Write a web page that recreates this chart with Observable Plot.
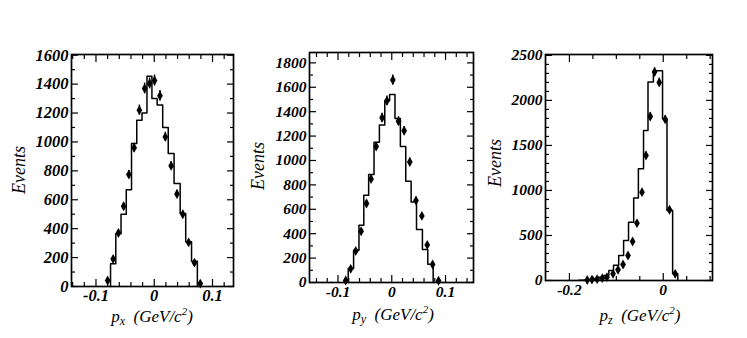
<!DOCTYPE html>
<html><head><meta charset="utf-8">
<script src="https://cdn.jsdelivr.net/npm/d3@7"></script>
<script src="https://cdn.jsdelivr.net/npm/@observablehq/plot@0.6"></script>
<style>
body{margin:0;background:#fff;}
#wrap{position:relative;width:747px;height:338px;overflow:hidden;background:#fff;font-family:"Liberation Serif","DejaVu Serif",serif;color:#000;}
.p{position:absolute;}
.ytitle{position:absolute;font-style:italic;font-size:18px;line-height:18px;transform:translate(-50%,-50%) rotate(-90deg);white-space:nowrap;}
.xtitle{position:absolute;font-style:italic;font-size:17px;line-height:17px;transform:translateX(-50%);white-space:nowrap;}
.xtitle sub{font-size:12px;vertical-align:-3px;}
.xtitle sup{font-size:11px;vertical-align:7px;}
</style></head><body><div id="wrap"></div>
<script>
// ---------- Panel 1: p_x ----------
const pxEdges  = [-0.075,-0.066,-0.057,-0.048,-0.039,-0.030,-0.021,-0.0125,-0.004,0.005,0.0145,0.024,0.034,0.0445,0.054,0.064,0.074];
const pxLevels = [157,365,500,669,990,1150,1200,1455,1300,1255,1100,920,712,505,310,175];
const pxPointX = [-0.080,-0.0705,-0.0615,-0.0525,-0.0435,-0.0345,-0.0255,-0.0165,-0.008,0.0005,0.0098,0.019,0.029,0.039,0.049,0.059,0.069,0.079];
const pxPointY = [42,190,370,555,775,960,1220,1370,1405,1425,1320,1035,835,640,500,305,165,20];
const pxXMajor = [-0.1,0,0.1];
const pxXMinor = [-0.14,-0.12,-0.08,-0.06,-0.04,-0.02,0.02,0.04,0.06,0.08,0.12];
const pxYMajor = [0,200,400,600,800,1000,1200,1400,1600];
const pxYMinor = [100,300,500,700,900,1100,1300,1500];

// ---------- Panel 2: p_y ----------
const pyEdges  = [-0.081,-0.071,-0.061,-0.052,-0.043,-0.033,-0.023,-0.013,-0.004,0.006,0.016,0.026,0.036,0.046,0.057,0.067,0.077];
const pyLevels = [115,265,470,715,885,1150,1290,1490,1540,1345,1115,830,660,435,270,150];
const pyPointX = [-0.0857,-0.0764,-0.067,-0.057,-0.047,-0.0385,-0.029,-0.018,-0.009,0.002,0.0125,0.023,0.0335,0.045,0.056,0.066,0.076,0.087];
const pyPointY = [16,112,258,420,648,848,1115,1350,1489,1660,1322,1244,988,672,546,308,147,14];
const pyXMajor = [-0.1,0,0.1];
const pyXMinor = [-0.14,-0.12,-0.08,-0.06,-0.04,-0.02,0.02,0.04,0.06,0.08,0.12,0.14];
const pyYMajor = [0,200,400,600,800,1000,1200,1400,1600,1800];
const pyYMinor = [100,300,500,700,900,1100,1300,1500,1700];

// ---------- Panel 3: p_z ----------
const pzEdges  = [-0.180,-0.169,-0.159,-0.148,-0.138,-0.127,-0.116,-0.106,-0.095,-0.0845,-0.074,-0.063,-0.053,-0.042,-0.0325,-0.021,-0.011,-0.0015,0.008,0.020,0.031];
const pzLevels = [3,6,12,22,35,55,111,170,278,444,648,915,1241,1667,2204,2330,2330,1796,778,74];
const pzPointX = [-0.162,-0.152,-0.141,-0.130,-0.120,-0.107,-0.0964,-0.0857,-0.0751,-0.0653,-0.056,-0.0453,-0.0368,-0.0277,-0.0185,-0.0085,0.0043,0.0134,0.0255];
const pzPointY = [5,10,15,26,37,74,119,178,278,433,637,981,1389,1822,2315,2200,1789,786,74];
const pzXMajor = [-0.2,0];
const pzXMinor = [-0.15,-0.1,-0.05,0.05,0.1];
const pzYMajor = [0,500,1000,1500,2000,2500];
const pzYMinor = [100,200,300,400,600,700,800,900,1100,1200,1300,1400,1600,1700,1800,1900,2100,2200,2300,2400];

const yTitle = "Events";
const unitText = "(GeV/<i>c</i><sup>2</sup>)";

function panel(o) {
  const line = [{x: o.edges[0], y: 0}];
  o.levels.forEach((h, i) => line.push({x: o.edges[i], y: h}));
  line.push({x: o.edges[o.edges.length - 1], y: 0});
  const pts = o.px.map((x, i) => ({x, y: o.py[i], e: Math.sqrt(o.py[i])}));
  const none = () => "";
  const font = "'Liberation Serif', 'DejaVu Serif', serif";
  const svg = Plot.plot({
    width: o.width, height: o.height,
    marginLeft: o.mL, marginRight: o.mR, marginTop: o.mT, marginBottom: o.mB,
    x: {domain: o.xDomain}, y: {domain: o.yDomain},
    style: {background: "transparent", color: "black", overflow: "visible", fontFamily: font, fontSize: o.fs + "px", fontWeight: "bold", fontStyle: "italic"},
    marks: [
      Plot.axisX({anchor: "bottom", ticks: o.xMajor, tickSize: 0, tickPadding: 3, tickFormat: d => String(d), label: null}),
      Plot.axisY({anchor: "left", ticks: o.yMajor, tickSize: 0, tickPadding: 3, tickFormat: d => String(d), label: null}),
      Plot.axisX({anchor: "bottom", ticks: o.xMajor, tickSize: -7, tickFormat: none, label: null, strokeWidth: 1.2}),
      Plot.axisX({anchor: "top", ticks: o.xMajor, tickSize: -7, tickFormat: none, label: null, strokeWidth: 1.2}),
      Plot.axisX({anchor: "bottom", ticks: o.xMinor, tickSize: -4, tickFormat: none, label: null, strokeWidth: 1.2}),
      Plot.axisX({anchor: "top", ticks: o.xMinor, tickSize: -4, tickFormat: none, label: null, strokeWidth: 1.2}),
      Plot.axisY({anchor: "left", ticks: o.yMajor, tickSize: -7, tickFormat: none, label: null, strokeWidth: 1.2}),
      Plot.axisY({anchor: "right", ticks: o.yMajor, tickSize: -7, tickFormat: none, label: null, strokeWidth: 1.2}),
      Plot.axisY({anchor: "left", ticks: o.yMinor, tickSize: -4, tickFormat: none, label: null, strokeWidth: 1.2}),
      Plot.axisY({anchor: "right", ticks: o.yMinor, tickSize: -4, tickFormat: none, label: null, strokeWidth: 1.2}),
      Plot.frame({stroke: "black", strokeWidth: 1.7}),
      Plot.line(line, {x: "x", y: "y", curve: "step-after", stroke: "black", strokeWidth: 1.5}),
      Plot.ruleX(pts, {x: "x", y1: d => d.y - d.e, y2: d => d.y + d.e, stroke: "black", strokeWidth: 1.5}),
      Plot.dot(pts, {x: "x", y: "y", symbol: "diamond", r: 3, fill: "black", stroke: "none"})
    ]
  });
  // enforce the bold italic serif face on every tick label
  svg.setAttribute("font-family", font);
  svg.querySelectorAll("g, text").forEach(t => {
    t.style.setProperty("font-family", font, "important");
    t.style.setProperty("font-weight", "bold", "important");
    t.style.setProperty("font-style", "italic", "important");
    t.style.setProperty("font-size", o.fs + "px", "important");
  });
  return svg;
}

const wrap = document.getElementById("wrap");
function place(el, left, top) { el.classList.add("p"); el.style.left = left + "px"; el.style.top = top + "px"; wrap.appendChild(el); }
function text(cls, html, left, top) { const d = document.createElement("div"); d.className = cls; d.innerHTML = html; d.style.left = left + "px"; d.style.top = top + "px"; wrap.appendChild(d); }

// Panel 1 frame: x 71..233, y 54..286
place(panel({edges: pxEdges, levels: pxLevels, px: pxPointX, py: pxPointY,
  xMajor: pxXMajor, xMinor: pxXMinor, yMajor: pxYMajor, yMinor: pxYMinor,
  xDomain: [-0.142, 0.136], yDomain: [0, 1605], fs: 16.5,
  width: 232, height: 272, mL: 60, mR: 10, mT: 10, mB: 30}), 11, 44);
// Panel 2 frame: x 309..473, y 52..282
place(panel({edges: pyEdges, levels: pyLevels, px: pyPointX, py: pyPointY,
  xMajor: pyXMajor, xMinor: pyXMinor, yMajor: pyYMajor, yMinor: pyYMinor,
  xDomain: [-0.153, 0.152], yDomain: [0, 1885], fs: 15.5,
  width: 234, height: 270, mL: 60, mR: 10, mT: 10, mB: 30}), 249, 42);
// Panel 3 frame: x 545..712, y 54..280
place(panel({edges: pzEdges, levels: pzLevels, px: pzPointX, py: pzPointY,
  xMajor: pzXMajor, xMinor: pzXMinor, yMajor: pzYMajor, yMinor: pzYMinor,
  xDomain: [-0.251, 0.105], yDomain: [0, 2510], fs: 15.5,
  width: 237, height: 266, mL: 60, mR: 10, mT: 10, mB: 30}), 485, 44);

text("ytitle", yTitle, 19, 170);
text("ytitle", yTitle, 258, 166);
text("ytitle", yTitle, 495, 163);
text("xtitle", "<i>p</i><sub>x</sub>&nbsp;&nbsp;" + unitText, 152, 303);
text("xtitle", "<i>p</i><sub>y</sub>&nbsp;&nbsp;" + unitText, 393, 301);
text("xtitle", "<i>p</i><sub>z</sub>&nbsp;&nbsp;" + unitText, 640, 302);
</script>
</body></html>
